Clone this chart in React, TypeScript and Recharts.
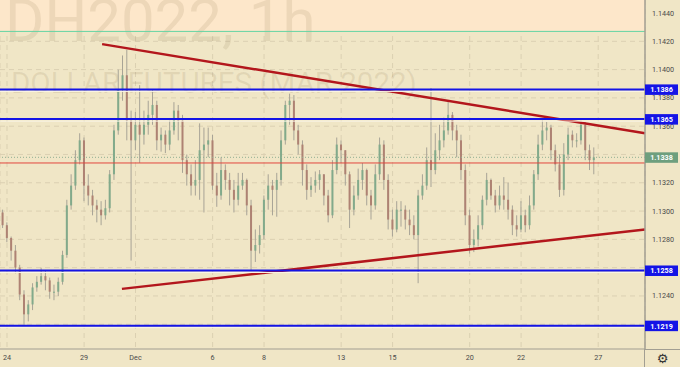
import {
  Bar,
  CartesianGrid,
  ComposedChart,
  ReferenceArea,
  ReferenceLine,
  XAxis,
  YAxis,
} from 'recharts'

// hourly candles, resampled to 6 bars per trading day (x = trading days since Nov 24)
const BAR_START = -1 / 6
const BAR_STEP = 1 / 6

const OPEN = [
  1.1299, 1.129, 1.1281, 1.1272, 1.126, 1.1241, 1.1227, 1.1234, 1.1246, 1.125,
  1.1254, 1.1251, 1.1243, 1.1243, 1.125, 1.1269, 1.1304, 1.1318, 1.1336, 1.135,
  1.1318, 1.1311, 1.1304, 1.1301, 1.1297, 1.1302, 1.1326, 1.1357, 1.1386, 1.1396,
  1.1364, 1.135, 1.1361, 1.1354, 1.1361, 1.1368, 1.1375, 1.135, 1.1354, 1.1347,
  1.1357, 1.1371, 1.1364, 1.1336, 1.1326, 1.1318, 1.1322, 1.1343, 1.1347, 1.135,
  1.1318, 1.1311, 1.1329, 1.1322, 1.1315, 1.1308, 1.1318, 1.1322, 1.1304, 1.1272,
  1.1276, 1.1283, 1.1308, 1.1318, 1.1315, 1.1322, 1.135, 1.1375, 1.1378, 1.1357,
  1.1347, 1.1329, 1.1315, 1.1318, 1.1322, 1.1326, 1.1311, 1.1297, 1.1329, 1.1347,
  1.1343, 1.1326, 1.1301, 1.1311, 1.1322, 1.1329, 1.1311, 1.1304, 1.1326, 1.1347,
  1.1322, 1.1294, 1.1287, 1.1301, 1.1301, 1.1294, 1.129, 1.1283, 1.1311, 1.1318,
  1.1336, 1.1329, 1.1343, 1.135, 1.1357, 1.1368, 1.1357, 1.135, 1.1329, 1.1297,
  1.1276, 1.128, 1.129, 1.1308, 1.1322, 1.1311, 1.1304, 1.1311, 1.1308, 1.1301,
  1.129, 1.1287, 1.1297, 1.129, 1.1304, 1.1326, 1.1347, 1.1357, 1.1359, 1.1343,
  1.1333, 1.1315, 1.134, 1.1354, 1.135, 1.135, 1.1361, 1.1343, 1.1336,
]
const HIGH = [
  1.1301, 1.1292, 1.1282, 1.1276, 1.1262, 1.1244, 1.1237, 1.1249, 1.1254, 1.126,
  1.1258, 1.1253, 1.1248, 1.1253, 1.1272, 1.1308, 1.1326, 1.1343, 1.1355, 1.1352,
  1.1326, 1.1315, 1.1308, 1.1307, 1.1308, 1.1329, 1.1361, 1.14, 1.141, 1.1414,
  1.1371, 1.137, 1.1389, 1.1371, 1.1378, 1.1386, 1.1378, 1.1359, 1.1357, 1.1364,
  1.1377, 1.1375, 1.1368, 1.134, 1.1333, 1.1336, 1.1362, 1.1359, 1.1359, 1.1354,
  1.1327, 1.1338, 1.1333, 1.1327, 1.1322, 1.1327, 1.1327, 1.1323, 1.1308, 1.1287,
  1.129, 1.1311, 1.1326, 1.1322, 1.1327, 1.1357, 1.1378, 1.1383, 1.1382, 1.1361,
  1.135, 1.1333, 1.1324, 1.1328, 1.1329, 1.1326, 1.1315, 1.1336, 1.1352, 1.135,
  1.1343, 1.1328, 1.1318, 1.133, 1.1334, 1.133, 1.1315, 1.1333, 1.1352, 1.135,
  1.1326, 1.1301, 1.1307, 1.1307, 1.1304, 1.1301, 1.1297, 1.1315, 1.1326, 1.1345,
  1.1387, 1.1355, 1.1361, 1.1366, 1.1377, 1.137, 1.1361, 1.1354, 1.1333, 1.1301,
  1.1287, 1.1297, 1.1311, 1.1327, 1.1323, 1.1315, 1.1318, 1.1324, 1.132, 1.1304,
  1.1297, 1.1307, 1.1301, 1.1311, 1.1329, 1.1354, 1.1364, 1.1363, 1.1361, 1.1347,
  1.134, 1.1348, 1.1359, 1.1357, 1.1355, 1.1364, 1.1363, 1.1347, 1.1345,
]
const LOW = [
  1.1288, 1.1278, 1.1265, 1.1256, 1.1237, 1.1219, 1.1222, 1.123, 1.1243, 1.1248,
  1.1244, 1.1238, 1.1237, 1.124, 1.1248, 1.1267, 1.1301, 1.1315, 1.1333, 1.1307,
  1.1304, 1.1297, 1.1292, 1.129, 1.1294, 1.1299, 1.1322, 1.1354, 1.1378, 1.135,
  1.1265, 1.1343, 1.1334, 1.1347, 1.1354, 1.1361, 1.1343, 1.1342, 1.1341, 1.1343,
  1.1354, 1.135, 1.1327, 1.1318, 1.1311, 1.1311, 1.1308, 1.1299, 1.1338, 1.1315,
  1.1303, 1.1308, 1.1315, 1.1304, 1.1299, 1.1304, 1.1315, 1.1297, 1.1258, 1.1264,
  1.127, 1.128, 1.1301, 1.1297, 1.1296, 1.1318, 1.1347, 1.1361, 1.135, 1.134,
  1.1318, 1.1308, 1.131, 1.1313, 1.1315, 1.1304, 1.1292, 1.1295, 1.1326, 1.1334,
  1.1318, 1.1288, 1.1297, 1.1308, 1.1315, 1.1304, 1.1294, 1.1301, 1.1322, 1.1315,
  1.1287, 1.1282, 1.1285, 1.1289, 1.1287, 1.1283, 1.128, 1.1249, 1.1308, 1.1315,
  1.1317, 1.1326, 1.1336, 1.1345, 1.1354, 1.135, 1.1338, 1.1322, 1.129, 1.127,
  1.1271, 1.1275, 1.1287, 1.1304, 1.1308, 1.1299, 1.1301, 1.1301, 1.1294, 1.1283,
  1.1282, 1.1285, 1.1285, 1.1287, 1.1301, 1.1322, 1.1343, 1.135, 1.1336, 1.1328,
  1.131, 1.1311, 1.1336, 1.1345, 1.1345, 1.1347, 1.1336, 1.1329, 1.1326,
]
const CLOSE = [
  1.129, 1.1281, 1.1272, 1.126, 1.1241, 1.1227, 1.1234, 1.1246, 1.125, 1.1254,
  1.1251, 1.1243, 1.1243, 1.125, 1.1269, 1.1304, 1.1318, 1.1336, 1.135, 1.1318,
  1.1311, 1.1304, 1.1301, 1.1297, 1.1302, 1.1326, 1.1357, 1.1386, 1.1396, 1.1364,
  1.135, 1.1361, 1.1354, 1.1361, 1.1368, 1.1375, 1.135, 1.1354, 1.1347, 1.1357,
  1.1371, 1.1364, 1.1336, 1.1326, 1.1318, 1.1322, 1.1343, 1.1347, 1.135, 1.1318,
  1.1311, 1.1329, 1.1322, 1.1315, 1.1308, 1.1318, 1.1322, 1.1304, 1.1272, 1.1276,
  1.1283, 1.1308, 1.1318, 1.1315, 1.1322, 1.135, 1.1375, 1.1378, 1.1357, 1.1347,
  1.1329, 1.1315, 1.1318, 1.1322, 1.1326, 1.1311, 1.1297, 1.1329, 1.1347, 1.1343,
  1.1326, 1.1301, 1.1311, 1.1322, 1.1329, 1.1311, 1.1304, 1.1326, 1.1347, 1.1322,
  1.1294, 1.1287, 1.1301, 1.1301, 1.1294, 1.129, 1.1283, 1.1311, 1.1318, 1.1336,
  1.1329, 1.1343, 1.135, 1.1357, 1.1368, 1.1357, 1.135, 1.1329, 1.1297, 1.1276,
  1.128, 1.129, 1.1308, 1.1322, 1.1311, 1.1304, 1.1311, 1.1308, 1.1301, 1.129,
  1.1287, 1.1297, 1.129, 1.1304, 1.1326, 1.1347, 1.1357, 1.1359, 1.1343, 1.1333,
  1.1315, 1.134, 1.1354, 1.135, 1.135, 1.1361, 1.1343, 1.1336, 1.1338,
]

const DAY_TICKS = [0, 3, 5, 8, 10, 13, 15, 18, 20, 23]
const DAY_LABELS = ['24', '29', 'Dec', '6', '8', '13', '15', '20', '22', '27']
// grid rows every 0.0020; the ones hidden under price tags get no label
const GRID_PRICES = [
  1.144, 1.142, 1.14, 1.138, 1.136, 1.134, 1.132, 1.13, 1.128, 1.126, 1.124, 1.122,
]
const PRICE_LABELS = [1.144, 1.142, 1.14, 1.138, 1.136, 1.132, 1.13, 1.128, 1.124]

const LEVELS = [1.1386, 1.1365, 1.1258, 1.1219]
const LAST_PRICE = 1.1338
const RED_LEVEL = 1.1334
const GREEN_LEVEL = 1.1427
const UPPER_TREND = [
  { x: 3.7, y: 1.1418 },
  { x: 24.82, y: 1.1355 },
]
const LOWER_TREND = [
  { x: 4.47, y: 1.1245 },
  { x: 24.82, y: 1.1287 },
]

const X_DOMAIN = [-0.272, 24.82]
const Y_DOMAIN = [1.12025, 1.14492]

const UP = '#82aa8b'
const DOWN = '#ae8273'
const WICK = '#a7a396'
const BLUE = '#1414e6'
const LAST_GREEN = '#6e9f7e'
const FONT = 'Roboto, sans-serif'

const data = OPEN.map((open, i) => ({
  t: BAR_START + i * BAR_STEP,
  open,
  high: HIGH[i],
  low: LOW[i],
  close: CLOSE[i],
  range: [LOW[i], HIGH[i]],
}))

const Candle = (props: any) => {
  const { x, y, width, height, payload } = props
  const { open, close, high, low } = payload
  const top = Math.min(y, y + height)
  const h = Math.abs(height)
  const span = high - low || 1e-9
  const py = (p: number) => top + ((high - p) / span) * h
  const cx = x + width / 2
  const bodyTop = py(Math.max(open, close))
  const bodyH = Math.max(1, py(Math.min(open, close)) - bodyTop)
  return (
    <g>
      <line x1={cx} x2={cx} y1={top} y2={top + h} stroke={WICK} strokeWidth={1} />
      <rect
        x={x}
        y={bodyTop}
        width={width}
        height={bodyH}
        fill={close >= open ? UP : DOWN}
      />
    </g>
  )
}

// price axis tick: plain label, or a coloured tag for the drawn levels
const PriceTick = (props: any) => {
  const { x, y, payload } = props
  const v = payload.value
  const isLevel = LEVELS.includes(v)
  const isLast = v === LAST_PRICE
  if (!isLevel && !isLast) {
    return (
      <text
        x={x}
        y={y}
        dominantBaseline="central"
        fontSize={7.2}
        fill="#4a4a4a"
        fontFamily={FONT}
      >
        {v.toFixed(4)}
      </text>
    )
  }
  return (
    <g>
      <rect x={x - 7} y={y - 5} width={33} height={10.5} fill={isLast ? LAST_GREEN : BLUE} />
      <text
        x={x + 9.5}
        y={y + 0.5}
        textAnchor="middle"
        dominantBaseline="central"
        fill="#fff"
        fontSize={7.2}
        fontWeight="bold"
        fontFamily={FONT}
      >
        {v.toFixed(4)}
      </text>
    </g>
  )
}

const Watermark = (props: any) => {
  const { viewBox } = props
  if (!viewBox) return null
  return (
    <g fill="rgba(120,95,60,0.12)" fontFamily={FONT}>
      <text x={5} y={41} fontSize={60}>
        DH2022, 1h
      </text>
      <text x={11} y={93} fontSize={29.5}>
        DOLLAR FUTURES (MAR 2022)
      </text>
    </g>
  )
}

const levelLine = (p: any) => (
  <g>
    <line x1={p.x1} x2={p.x2} y1={p.y1 + 2} y2={p.y2 + 2} stroke="#fbf6e6" strokeWidth={1} />
    <line x1={p.x1} x2={p.x2} y1={p.y1} y2={p.y2} stroke={BLUE} strokeWidth={2} />
  </g>
)

export default function App() {
  return (
    <div
      style={{
        position: 'relative',
        width: 680,
        height: 367,
        background: '#f0e6c6',
        overflow: 'hidden',
      }}
    >
      <style>{'body{margin:0}'}</style>
      <ComposedChart
        width={680}
        height={367}
        data={data}
        margin={{ top: 0, right: 0, bottom: 0, left: 0 }}
      >
        <ReferenceArea
          y1={GREEN_LEVEL}
          y2={Y_DOMAIN[1]}
          fill="#fde7ca"
          fillOpacity={1}
          stroke="none"
          label={<Watermark />}
        />
        <CartesianGrid
          stroke="#dbd0b2"
          strokeDasharray="5 4"
          horizontalValues={GRID_PRICES}
        />
        <XAxis
          dataKey="t"
          type="number"
          domain={X_DOMAIN}
          allowDataOverflow
          ticks={DAY_TICKS}
          interval={0}
          tickFormatter={(v: number) => DAY_LABELS[DAY_TICKS.indexOf(v)]}
          height={18}
          tickSize={0}
          tickMargin={6}
          tick={{ fontSize: 7.2, fill: '#4a4a4a', fontFamily: FONT }}
          axisLine={{ stroke: '#a29e92' }}
        />
        <YAxis
          type="number"
          orientation="right"
          domain={Y_DOMAIN}
          allowDataOverflow
          ticks={[...PRICE_LABELS, LAST_PRICE, ...LEVELS]}
          interval={0}
          width={35}
          tickSize={0}
          tickMargin={7}
          tick={<PriceTick />}
          axisLine={{ stroke: '#a29e92', strokeWidth: 1.5 }}
        />
        <ReferenceLine y={GREEN_LEVEL} stroke="#62d4a4" strokeWidth={1} />
        <ReferenceLine y={RED_LEVEL} stroke="#e2463e" strokeWidth={1} />
        <ReferenceLine
          y={LAST_PRICE}
          stroke="#8fae92"
          strokeWidth={1}
          strokeDasharray="1 2"
        />
        <Bar
          dataKey="range"
          barSize={2}
          shape={Candle}
          isAnimationActive={false}
        />
        <ReferenceLine segment={UPPER_TREND} stroke="#b3161c" strokeWidth={2.5} />
        <ReferenceLine segment={LOWER_TREND} stroke="#b3161c" strokeWidth={2.5} />
        {LEVELS.map((lv) => (
          <ReferenceLine key={lv} y={lv} shape={levelLine} />
        ))}
      </ComposedChart>
      <div
        style={{
          position: 'absolute',
          left: 644,
          top: 349,
          width: 36,
          height: 18,
          borderLeft: '1.5px solid #a29e92',
          borderTop: '1px solid #a29e92',
          boxSizing: 'border-box',
          textAlign: 'center',
          fontSize: 13,
          lineHeight: '17px',
          color: '#333',
          fontFamily: 'DejaVu Sans, sans-serif',
        }}
      >
        ⚙
      </div>
    </div>
  )
}
